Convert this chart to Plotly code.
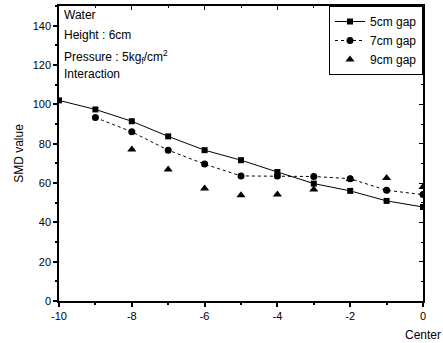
import plotly.graph_objects as go

x5 = [-10, -9, -8, -7, -6, -5, -4, -3, -2, -1, 0]
y5 = [102, 97.4, 91.4, 83.7, 76.7, 71.6, 65.6, 59.7, 56.0, 50.9, 47.8]

x7 = [-9, -8, -7, -6, -5, -4, -3, -2, -1, 0]
y7 = [93.3, 86.0, 76.7, 69.6, 63.6, 63.5, 63.3, 62.2, 56.3, 54.1]

x9 = [-8, -7, -6, -5, -4, -3, -2, -1, 0]
y9 = [77.0, 66.9, 57.2, 53.8, 54.1, 56.7, 62.0, 62.6, 58.0]

x_tickvals = [-10, -8, -6, -4, -2, 0]
x_ticktext = ["-10", "-8", "-6", "-4", "-2", "0"]
y_tickvals = [0, 20, 40, 60, 80, 100, 120, 140]
y_ticktext = ["0", "20", "40", "60", "80", "100", "120", "140"]

info_lines = ["Water", "Height : 6cm", "Pressure : 5kg<sub>f</sub>/cm<sup>2</sup>", "Interaction"]

FONT = "Liberation Sans, Arial, sans-serif"

fig = go.Figure()
fig.add_trace(go.Scatter(x=x5, y=y5, mode="lines+markers", name="5cm gap",
                         line=dict(color="black", width=1),
                         marker=dict(symbol="square", size=6, color="black")))
fig.add_trace(go.Scatter(x=x7, y=y7, mode="lines+markers", name="7cm gap",
                         line=dict(color="black", width=1, dash="dot"),
                         marker=dict(symbol="circle", size=7, color="black")))
fig.add_trace(go.Scatter(x=x9, y=y9, mode="markers", name="9cm gap",
                         marker=dict(symbol="triangle-up", size=8, color="black")))
# invisible trace to activate mirrored top/right axes
fig.add_trace(go.Scatter(x=[x5[0]], y=[y5[0]], xaxis="x2", yaxis="y2", mode="markers",
                         marker=dict(opacity=0), showlegend=False, hoverinfo="skip"))

axis_common = dict(showgrid=False, zeroline=False, showline=True, linecolor="black",
                   linewidth=1.5, ticks="outside", tickcolor="black", ticklen=4, tickwidth=1.5,
                   tickfont=dict(family=FONT, size=11, color="black"))

fig.update_layout(
    width=443, height=343,
    margin=dict(l=59, r=20, t=6, b=42),
    paper_bgcolor="white", plot_bgcolor="white",
    font=dict(family=FONT, color="black"),
    xaxis=dict(range=[-10, 0], tickmode="array", tickvals=x_tickvals, ticktext=x_ticktext,
               minor=dict(dtick=1, ticks="outside", ticklen=2, tickcolor="black"),
               **axis_common),
    yaxis=dict(range=[0, 150], tickmode="array", tickvals=y_tickvals, ticktext=y_ticktext,
               minor=dict(dtick=10, ticks="outside", ticklen=2, tickcolor="black"),
               title=dict(text="SMD value", font=dict(family=FONT, size=12), standoff=6),
               **axis_common),
    xaxis2=dict(range=[-10, 0], dtick=2, overlaying="x", side="top", showticklabels=False,
                showgrid=False, zeroline=False, showline=True, linecolor="black", linewidth=1.5,
                ticks="inside", ticklen=4, tickcolor="black",
                minor=dict(dtick=1, ticks="inside", ticklen=2, tickcolor="black")),
    yaxis2=dict(range=[0, 150], dtick=20, overlaying="y", side="right", showticklabels=False,
                showgrid=False, zeroline=False, showline=True, linecolor="black", linewidth=1.5,
                ticks="inside", ticklen=4, tickcolor="black",
                minor=dict(dtick=10, ticks="inside", ticklen=2, tickcolor="black")),
    legend=dict(x=1, y=1, xanchor="right", yanchor="top", bordercolor="black", borderwidth=1,
                bgcolor="white", font=dict(family=FONT, size=12), tracegroupgap=0,
                itemwidth=30),
    showlegend=True,
)

for i, t in enumerate(info_lines):
    fig.add_annotation(text=t, xref="paper", yref="paper", x=0.008, y=1 - 0.0 - i * 0.067,
                       xanchor="left", yanchor="top", showarrow=False,
                       font=dict(family=FONT, size=12, color="black"))

fig.add_annotation(text="Center", xref="x", yref="paper", x=0, y=-0.115, xanchor="center",
                   yanchor="middle", showarrow=False, font=dict(family=FONT, size=12, color="black"))

fig.write_html("out.html")
